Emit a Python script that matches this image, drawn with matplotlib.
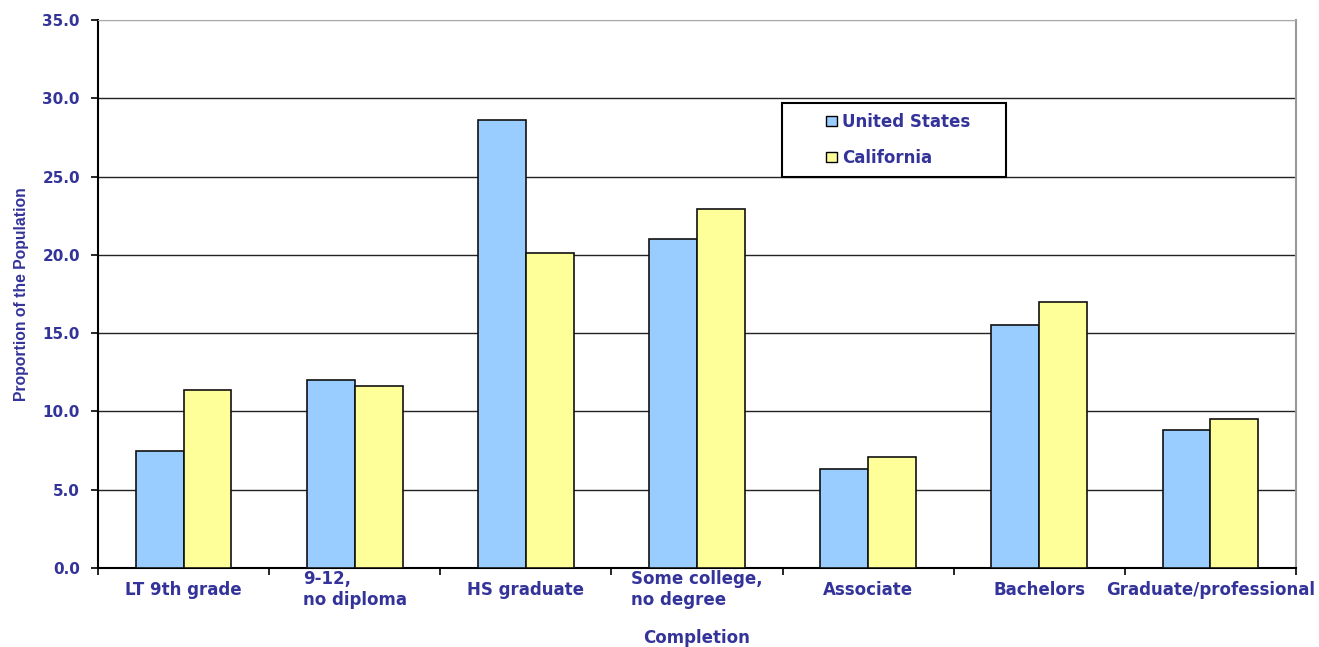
"""
Educational attainment: United States vs California, grouped bar chart.
"""
import matplotlib.pyplot as plt
import numpy as np
from matplotlib import font_manager
from matplotlib.patches import Patch, Rectangle

# Chart data
categories = ["LT 9th grade", "9-12,\nno diploma", "HS graduate",
              "Some college,\nno degree", "Associate", "Bachelors",
              "Graduate/professional"]
us_values = [7.5, 12.0, 28.6, 21.0, 6.3, 15.5, 8.8]
ca_values = [11.4, 11.6, 20.1, 22.9, 7.1, 17.0, 9.5]
series_names = ["United States", "California"]
y_ticks = [0, 5, 10, 15, 20, 25, 30, 35]

NAVY = "#333399"
US_COLOR = "#99CCFF"
CA_COLOR = "#FFFF99"

W, H = 1319, 647
fig = plt.figure(figsize=(W / 100, H / 100), dpi=100)
# Plot area in pixel terms: x 98..1296, y 20..568
ax = fig.add_axes([98 / W, 1 - 568 / H, (1296 - 98) / W, (568 - 20) / H])

xx = np.arange(len(categories))
bar_w = 0.28
ax.bar(xx - bar_w / 2, us_values, bar_w, color=US_COLOR,
       edgecolor="#111111", linewidth=1.2, zorder=3)
ax.bar(xx + bar_w / 2, ca_values, bar_w, color=CA_COLOR,
       edgecolor="#111111", linewidth=1.2, zorder=3)

ax.set_xlim(-0.5, len(categories) - 0.5)
ax.set_ylim(0, 35)

# Y axis
ax.set_yticks(y_ticks)
ax.set_yticklabels(["%.1f" % v for v in y_ticks])
ax.tick_params(axis="y", direction="out", length=5, width=1.2, pad=8,
               labelsize=11, labelcolor=NAVY)
for lab in ax.get_yticklabels():
    lab.set_fontweight("bold")
ax.yaxis.grid(True, color="#222222", linewidth=1.0, zorder=0)
ax.get_ygridlines()[-1].set_color("#aaaaaa")
ax.set_axisbelow(True)

# X axis: marks at category boundaries, labels at centers
ax.set_xticks(xx)
ax.set_xticks(np.arange(len(categories) + 1) - 0.5, minor=True)
ax.set_xticklabels(categories)
ax.tick_params(axis="x", which="major", length=0, pad=15.5,
               labelsize=12, labelcolor=NAVY)
ax.tick_params(axis="x", which="minor", direction="out", length=5, width=1.2)
for lab in ax.get_xticklabels():
    lab.set_fontweight("bold")
    lab.set_verticalalignment("center")
    lab.set_multialignment("left")

# Spines
ax.spines["left"].set_color("black")
ax.spines["left"].set_linewidth(1.5)
ax.spines["bottom"].set_color("black")
ax.spines["bottom"].set_linewidth(1.5)
ax.spines["right"].set_color("#999999")
ax.spines["right"].set_linewidth(1.5)
ax.spines["top"].set_color("#aaaaaa")

# Axis titles
fig.text((98 + 1296) / 2 / W, 1 - 638 / H, "Completion", ha="center",
         va="center", fontsize=12, fontweight="bold", color=NAVY)

# The y title is a narrow face in the original; use one if it is there
installed = {f.name for f in font_manager.fontManager.ttflist}
if "Liberation Sans Narrow" in installed:
    ylab_family = "Liberation Sans Narrow"
else:
    ylab_family = "Liberation Sans"
ylab = fig.text(22 / W, 1 - 294 / H, "Proportion of the Population",
                rotation=90, ha="center", va="center", fontsize=12,
                color=NAVY, family=ylab_family, fontweight="bold")
# shrink to the original length (about 212 px)
renderer = fig.canvas.get_renderer()
ext = ylab.get_window_extent(renderer)
ylab.set_fontsize(12 * min(1.0, 212 / ext.height))

# Legend: frame drawn separately to match the box size
fig.patches.append(Rectangle((782 / W, 1 - 177 / H), (1006 - 782) / W,
                             (177 - 103) / H, transform=fig.transFigure,
                             facecolor="white", edgecolor="black",
                             linewidth=1.5, zorder=5))
handles = [Patch(facecolor=US_COLOR, edgecolor="black", linewidth=1.0),
           Patch(facecolor=CA_COLOR, edgecolor="black", linewidth=1.0)]
leg = fig.legend(handles, series_names, loc="upper left",
                 bbox_to_anchor=(814 / W, 1 - 101 / H), frameon=False,
                 prop={"size": 12, "weight": "bold"}, labelcolor=NAVY,
                 handlelength=0.7, handleheight=0.6, handletextpad=0.3,
                 labelspacing=1.1, borderpad=0.2)
leg.set_zorder(6)

fig.savefig("out.png", dpi=100)
